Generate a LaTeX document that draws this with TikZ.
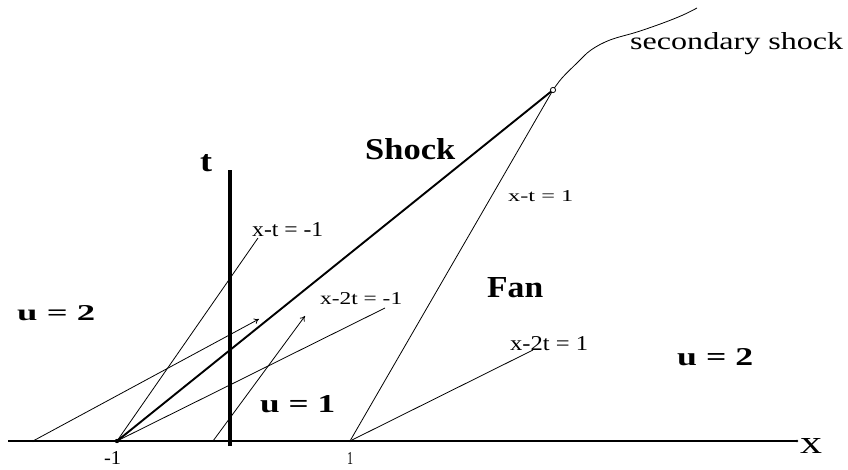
\documentclass[tikz,border=0pt]{standalone}
\usepackage{fontspec}
\setmainfont{Liberation Serif}
\usetikzlibrary{arrows.meta}
\newcommand{\fitlbl}[3]{\resizebox{#1pt}{#2pt}{#3}}
\begin{document}
\begin{tikzpicture}[x=1pt,y=-1pt,
  thinline/.style={line width=0.8pt,black},
  shockline/.style={line width=1.9pt,black},
  axisline/.style={line width=1.4pt,black},
  taxis/.style={line width=3.6pt,black},
  lbl/.style={inner sep=0pt,anchor=base west},
  charrow/.style={thinline,-{To[length=5pt,width=6pt]}}]
\useasboundingbox (0,0) rectangle (848,470);
% key points
\coordinate (xl) at (8,441);
\coordinate (xr) at (797,441);
\coordinate (tb) at (230,446);
\coordinate (tt) at (230,170);
\coordinate (m1) at (117,441);
\coordinate (p1) at (350,441);
\coordinate (kink) at (553,90);
\coordinate (a0) at (33,441);
\coordinate (a1) at (259,319);
\coordinate (b0) at (213,441);
\coordinate (b1) at (305,316);
\coordinate (ctm1) at (258,238);
\coordinate (c2tm1) at (385,308);
\coordinate (c2tp1) at (533,350);
\coordinate (ss) at (697,8);
% axes
\draw[axisline] (xl) -- (xr);
\draw[taxis] (tb) -- (tt);
% characteristics
\draw[thinline] (m1) -- (ctm1);
\draw[thinline] (m1) -- (c2tm1);
\draw[thinline] (p1) -- (kink);
\draw[thinline] (p1) -- (c2tp1);
\draw[charrow] (a0) -- (a1);
\draw[charrow] (b0) -- (b1);
% shocks
\draw[shockline] (m1) -- (kink);
\draw[thinline] plot[smooth,tension=0.6] coordinates {(553,90) (562,78) (577,63) (591,50) (610,40) (637,32) (663,23) (683,15) (697,8)};
% dots
\fill (m1) circle (2.2);
\fill (a0) circle (1.2);
\fill (p1) circle (1.2);
\fill (xr) circle (1.4);
\draw[line width=0.8pt,fill=white] (kink) circle (2.6);
% labels
\node[lbl] (lshock) at (365,160) {\fitlbl{90}{21}{\bfseries Shock}};
\node[lbl] (lfan) at (487,298) {\fitlbl{56}{20}{\bfseries Fan}};
\node[lbl] (lu2r) at (677,365) {\fitlbl{76}{17}{\bfseries u = 2}};
\node[lbl] (lu2l) at (17,320) {\fitlbl{78}{15}{\bfseries u = 2}};
\node[lbl] (lu1) at (260,412) {\fitlbl{75}{17}{\bfseries u = 1}};
\node[lbl] (lt) at (200,172) {\fitlbl{12}{17}{\bfseries t}};
\node[lbl] (lx) at (800,453) {\fitlbl{22}{15}{x}};
\node[lbl] (lm1) at (104,464) {\fitlbl{17}{13}{-1}};
\node[lbl] (lp1) at (347,464) {\fitlbl{6}{12}{1}};
\node[lbl] (lsec) at (630,50) {\fitlbl{213}{17}{secondary shock}};
\node[lbl] (lxt1) at (508,202) {\fitlbl{65}{11}{x-t = 1}};
\node[lbl] (lx2t1) at (510,350) {\fitlbl{78}{14}{x-2t = 1}};
\node[lbl] (lxtm1) at (252,237) {\fitlbl{71}{14}{x-t = -1}};
\node[lbl] (lx2tm1) at (320,305) {\fitlbl{82}{12}{x-2t = -1}};
\end{tikzpicture}
\end{document}
